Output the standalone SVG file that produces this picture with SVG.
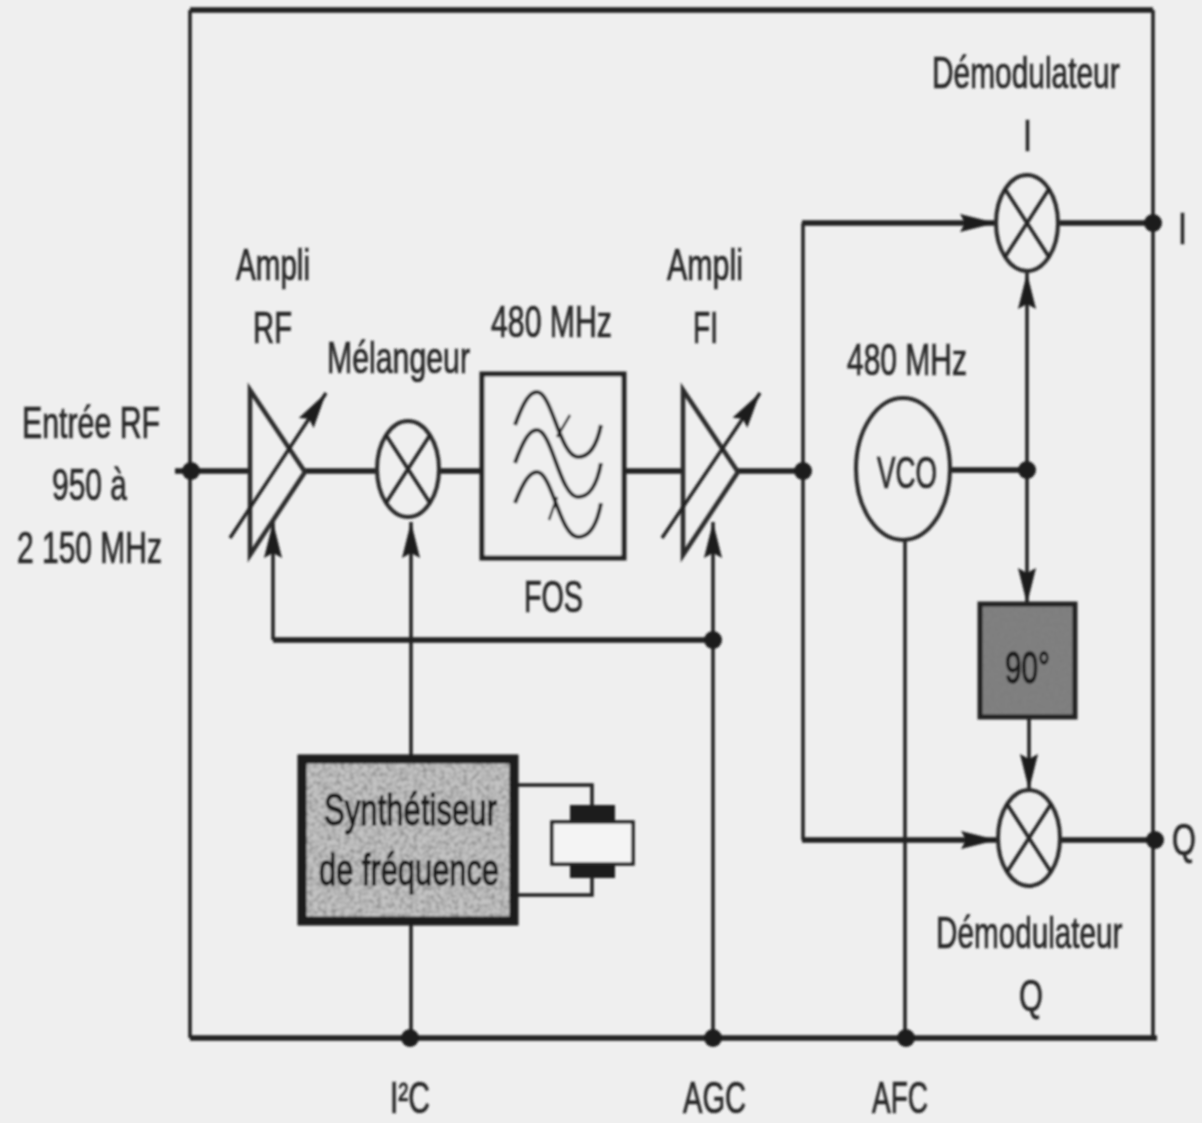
<svg xmlns="http://www.w3.org/2000/svg" width="1202" height="1123" viewBox="0 0 1202 1123">
<style>
.w{fill:none;stroke:#222;stroke-width:3.5}
.t{fill:none;stroke:#222;stroke-width:5.5}
.s{fill:none;stroke:#2b2b2b;stroke-width:4}
.f{fill:#efefef;stroke:#222;stroke-width:5}
.d{fill:#1c1c1c}
.b{stroke-width:1.4;fill:#1a1a1a;stroke:#1a1a1a}
text{font-family:"Liberation Sans",Arial,sans-serif;font-size:44px;fill:#262626;stroke:#262626;stroke-width:0.7;text-anchor:start}
</style>
<defs>
<marker id="a" markerUnits="userSpaceOnUse" markerWidth="36" markerHeight="18" refX="36" refY="9" orient="auto" viewBox="0 0 36 18"><path d="M0 0L36 9L0 18L5 9Z" fill="#1c1c1c" stroke="none"/></marker>
<filter id="soft" filterUnits="userSpaceOnUse" x="0" y="0" width="1202" height="1123"><feGaussianBlur stdDeviation="0.9"/></filter>
<filter id="grain" x="0" y="0" width="100%" height="100%">
<feTurbulence type="fractalNoise" baseFrequency="0.22" numOctaves="3" seed="4" result="n"/>
<feColorMatrix in="n" type="matrix" values="0 0 0 0 0.2 0 0 0 0 0.2 0 0 0 0 0.2 1.6 0 0 0 -0.55" result="g"/>
<feMerge><feMergeNode in="SourceGraphic"/><feMergeNode in="g"/></feMerge>
</filter>
</defs>
<rect width="1202" height="1123" fill="#efefef"/>
<g filter="url(#soft)">
<g id="connectors">
<path class="t" d="M190 10H1153"/>
<path class="t" d="M190 1038H1157"/>
<path class="w" d="M190 10V1038M1153 10V1038"/>
<path class="t" d="M175 471H250M305 471H377M439 471H482M624 471H683M738 471H803"/>
<path class="t" d="M273 640H713"/>
<path class="w" d="M273 640V522" marker-end="url(#a)"/>
<path class="w" d="M411 755V522" marker-end="url(#a)"/>
<path class="w" d="M713 1038V522" marker-end="url(#a)"/>
<path class="w" d="M411 923V1038M905 540V1038"/>
<path class="t" d="M950 470H1027M1058 223H1153M1060 840H1153"/>
<path class="w" d="M803 471V223" />
<path class="w" d="M803 471V840"/>
<path class="t" d="M802 223H996" marker-end="url(#a)"/>
<path class="t" d="M802 840H997" marker-end="url(#a)"/>
<path class="w" d="M1027 470V273" marker-end="url(#a)"/>
<path class="w" d="M1027 470V604" marker-end="url(#a)"/>
<path class="w" d="M1029 717V790" marker-end="url(#a)"/>
<path class="w" d="M518 785H592V806M518 895H592V878"/>
<circle class="d" cx="191" cy="471" r="9"/>
<circle class="d" cx="803" cy="471" r="9"/>
<circle class="d" cx="713" cy="640" r="9"/>
<circle class="d" cx="1027" cy="470" r="9"/>
<circle class="d" cx="1153" cy="223" r="9"/>
<circle class="d" cx="1155" cy="840" r="9"/>
<circle class="d" cx="410" cy="1038" r="9"/>
<circle class="d" cx="713" cy="1038" r="9"/>
<circle class="d" cx="906" cy="1038" r="9"/>
</g>
<g id="ampli-rf">
<path class="s" d="M250 390V555L305 472Z" style="stroke-width:4.5"/>
<path class="w" d="M230 538L326 393" marker-end="url(#a)"/>
<text x="236" y="280" textLength="74" lengthAdjust="spacingAndGlyphs">Ampli</text>
<text x="253" y="343" textLength="39" lengthAdjust="spacingAndGlyphs">RF</text>
</g>
<g id="melangeur">
<ellipse class="s" cx="408" cy="469" rx="31" ry="48"/>
<path class="w" d="M386 435L430 503M430 435L386 503"/>
<text x="327" y="373" textLength="143" lengthAdjust="spacingAndGlyphs">Mélangeur</text>
</g>
<g id="fos">
<rect class="f" x="482" y="374" width="142" height="184"/>
<path class="w" style="stroke-width:4" d="M515 425C524 400 530 392 537 392C552 392 560 457 578 457C590 457 597 445 601 425"/>
<path class="w" style="stroke-width:4" d="M515 463C524 438 530 430 537 430C552 430 560 497 578 497C590 497 597 485 601 463"/>
<path class="w" style="stroke-width:4" d="M515 503C524 480 530 472 537 472C552 472 560 537 578 537C590 537 597 525 601 503"/>
<path class="w" d="M570 415L557 437M557 497L549 520" style="stroke-width:2.5"/>
<text x="491" y="337" textLength="121" lengthAdjust="spacingAndGlyphs">480 MHz</text>
<text x="524" y="612" textLength="59" lengthAdjust="spacingAndGlyphs">FOS</text>
</g>
<g id="ampli-fi">
<path class="s" d="M683 390V555L738 472Z" style="stroke-width:4.5"/>
<path class="w" d="M662 538L760 393" marker-end="url(#a)"/>
<text x="667" y="280" textLength="76" lengthAdjust="spacingAndGlyphs">Ampli</text>
<text x="693" y="343" textLength="25" lengthAdjust="spacingAndGlyphs">FI</text>
</g>
<g id="vco">
<ellipse class="s" cx="903" cy="469" rx="47" ry="71"/>
<text x="877" y="488" textLength="60" lengthAdjust="spacingAndGlyphs">VCO</text>
<text x="847" y="375" textLength="120" lengthAdjust="spacingAndGlyphs">480 MHz</text>
</g>
<g id="demodulateur-i">
<ellipse class="s" cx="1027" cy="223" rx="31" ry="48"/>
<path class="w" d="M1005 189L1049 257M1049 189L1005 257"/>
<text transform="translate(932 88) scale(0.679 1)">Démodulateur</text>
<text x="1023" y="151" textLength="9" lengthAdjust="spacingAndGlyphs">I</text>
</g>
<g id="demodulateur-q">
<ellipse class="s" cx="1029" cy="838" rx="31" ry="48"/>
<path class="w" d="M1007 804L1051 872M1051 804L1007 872"/>
<text transform="translate(936 948) scale(0.675 1)">Démodulateur</text>
<text x="1019" y="1011" textLength="24" lengthAdjust="spacingAndGlyphs">Q</text>
</g>
<g id="dephaseur">
<rect x="980" y="604" width="95" height="113" fill="#808080" filter="url(#grain)"/>
<rect x="980" y="604" width="95" height="113" fill="none" stroke="#222" stroke-width="5"/>
<text class="b" x="1005" y="683" textLength="45" lengthAdjust="spacingAndGlyphs">90°</text>
</g>
<g id="synthetiseur">
<rect x="302" y="759" width="212" height="162" fill="#c4c4c4" filter="url(#grain)"/>
<rect x="302" y="759" width="212" height="162" fill="none" stroke="#1c1c1c" stroke-width="9"/>
<text class="b" x="324" y="825" textLength="173" lengthAdjust="spacingAndGlyphs">Synthétiseur</text>
<text class="b" x="319" y="885" textLength="180" lengthAdjust="spacingAndGlyphs">de fréquence</text>
</g>
<g id="quartz">
<rect x="570" y="805" width="45" height="16" fill="#1c1c1c"/>
<rect x="570" y="863" width="45" height="15" fill="#1c1c1c"/>
<rect x="552" y="822" width="81" height="42" fill="#f4f4f4" stroke="#222" stroke-width="3.5"/>
</g>
<g id="labels">
<text x="22" y="438" textLength="138" lengthAdjust="spacingAndGlyphs">Entrée RF</text>
<text x="52" y="500" textLength="75" lengthAdjust="spacingAndGlyphs">950 à</text>
<text x="17" y="563" textLength="145" lengthAdjust="spacingAndGlyphs">2 150 MHz</text>
<text x="1178" y="244" textLength="9" lengthAdjust="spacingAndGlyphs">I</text>
<text transform="translate(1172 855) scale(0.7 1)">Q</text>
<text x="390" y="1113" textLength="40" lengthAdjust="spacingAndGlyphs">I²C</text>
<text x="683" y="1113" textLength="63" lengthAdjust="spacingAndGlyphs">AGC</text>
<text x="872" y="1113" textLength="56" lengthAdjust="spacingAndGlyphs">AFC</text>
</g>
</g>
</svg>
